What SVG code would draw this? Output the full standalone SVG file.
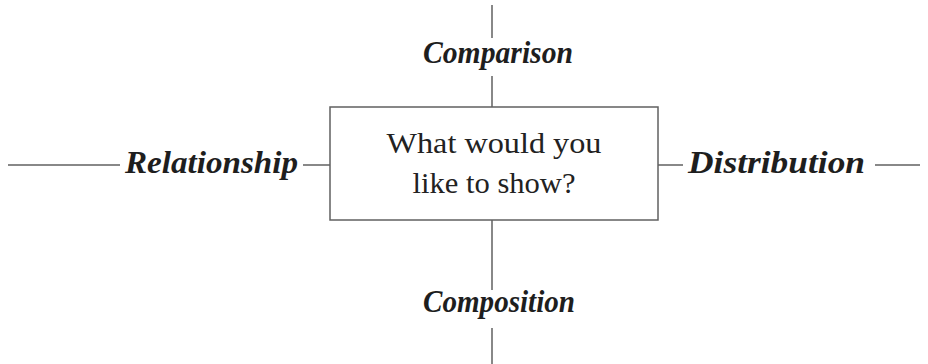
<svg xmlns="http://www.w3.org/2000/svg" width="928" height="364" viewBox="0 0 928 364">
<style>
.ln{stroke:#606060;stroke-width:1.5;fill:none}
.lbl{font-family:"Liberation Serif","Times New Roman",serif;font-weight:bold;font-style:italic;font-size:31px;fill:#1e1e1e}
.q{font-family:"Liberation Serif","Times New Roman",serif;font-size:29px;fill:#222;text-anchor:middle}
</style>
<rect width="928" height="364" fill="#fff"/>
<g id="connectors">
<line class="ln" x1="492" y1="5" x2="492" y2="38"/>
<line class="ln" x1="492" y1="76" x2="492" y2="107"/>
<line class="ln" x1="492" y1="220" x2="492" y2="290"/>
<line class="ln" x1="492" y1="328" x2="492" y2="364"/>
<line class="ln" x1="8" y1="165" x2="120" y2="165"/>
<line class="ln" x1="303" y1="165" x2="330" y2="165"/>
<line class="ln" x1="658" y1="165" x2="683" y2="165"/>
<line class="ln" x1="875" y1="165" x2="920" y2="165"/>
</g>
<g id="center">
<rect x="330" y="107" width="328" height="113" fill="#fff" stroke="#606060" stroke-width="1.5"/>
<text class="q" x="494" y="153" textLength="215" lengthAdjust="spacingAndGlyphs">What would you</text>
<text class="q" x="494" y="193" textLength="163" lengthAdjust="spacingAndGlyphs">like to show?</text>
</g>
<g id="comparison"><text class="lbl" x="423" y="63" textLength="150" lengthAdjust="spacingAndGlyphs">Comparison</text></g>
<g id="composition"><text class="lbl" x="423" y="312" textLength="152" lengthAdjust="spacingAndGlyphs">Composition</text></g>
<g id="relationship"><text class="lbl" x="125" y="173" textLength="173" lengthAdjust="spacingAndGlyphs">Relationship</text></g>
<g id="distribution"><text class="lbl" x="688" y="173" textLength="177" lengthAdjust="spacingAndGlyphs">Distribution</text></g>
</svg>
